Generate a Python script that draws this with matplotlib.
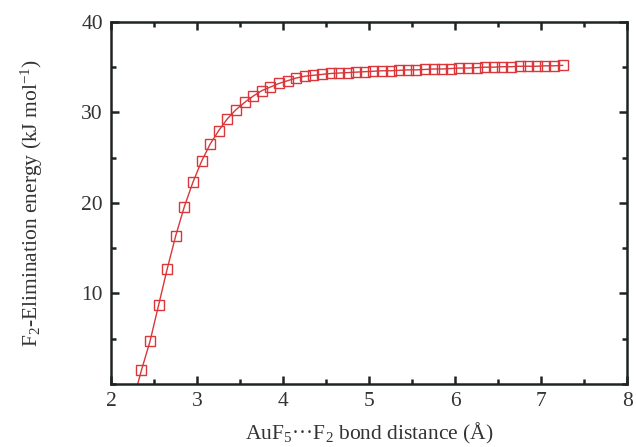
import matplotlib
matplotlib.use("Agg")
import matplotlib.pyplot as plt
from matplotlib.ticker import MultipleLocator

plt.rcParams["font.family"] = ["Liberation Serif", "DejaVu Serif"]
plt.rcParams["mathtext.fontset"] = "custom"
plt.rcParams["mathtext.rm"] = "Liberation Serif"
plt.rcParams["mathtext.it"] = "Liberation Serif:italic"

# AuF5...F2 distance (Angstrom) and F2-elimination energy (kJ/mol)
distance = [2.35, 2.45, 2.55, 2.65, 2.75, 2.85, 2.95, 3.05, 3.15, 3.25,
            3.35, 3.45, 3.55, 3.65, 3.75, 3.85, 3.95, 4.05, 4.15, 4.25,
            4.35, 4.45, 4.55, 4.65, 4.75, 4.85, 4.95, 5.05, 5.15, 5.25,
            5.35, 5.45, 5.55, 5.65, 5.75, 5.85, 5.95, 6.05, 6.15, 6.25,
            6.35, 6.45, 6.55, 6.65, 6.75, 6.85, 6.95, 7.05, 7.15, 7.25]
energy = [1.5, 4.7, 8.7, 12.7, 16.4, 19.6, 22.3, 24.6, 26.5, 28.0,
          29.3, 30.3, 31.1, 31.8, 32.4, 32.8, 33.2, 33.5, 33.8, 34.0,
          34.1, 34.2, 34.3, 34.35, 34.4, 34.45, 34.5, 34.55, 34.6, 34.6,
          34.65, 34.7, 34.7, 34.75, 34.8, 34.8, 34.85, 34.9, 34.9, 34.95,
          35.0, 35.0, 35.05, 35.05, 35.1, 35.1, 35.1, 35.15, 35.15, 35.2]

# the drawn curve starts a little below the first computed point
curve_x = [2.25] + distance
curve_y = [-2.0] + energy

red = "#d9373a"

fig = plt.figure(figsize=(6.36, 4.47), dpi=100)
ax = fig.add_axes([0.175, 0.141, 0.811, 0.81])

ax.plot(curve_x, curve_y, color=red, linewidth=1.0, zorder=2)
ax.plot(distance, energy, linestyle="none", marker="s", markersize=6.8,
        markerfacecolor="none", markeredgecolor=red, markeredgewidth=1.0, zorder=3)

ax.set_xlim(2, 8)
ax.set_ylim(0, 40)
ax.xaxis.set_major_locator(MultipleLocator(1))
ax.xaxis.set_minor_locator(MultipleLocator(0.5))
ax.set_yticks([10, 20, 30, 40])
ax.yaxis.set_minor_locator(MultipleLocator(5))

for s in ax.spines.values():
    s.set_linewidth(1.8)
    s.set_color("#1e2424")

ax.tick_params(which="both", direction="in", top=True, right=True,
               color="#1e2424", width=1.8)
ax.tick_params(which="major", length=6, labelsize=15.5, labelcolor="#333333", pad=6)
ax.tick_params(which="minor", length=3.5)

ax.set_xlabel("AuF$_5$\u00b7\u00b7\u00b7F$_2$ bond distance (\u00c5)",
              fontsize=15.5, color="#333333", labelpad=7)
ax.set_ylabel("F$_2$-Elimination energy (kJ mol$^{-1}$)",
              fontsize=15.5, color="#333333", labelpad=26)

fig.savefig("out.png", dpi=100, facecolor="white")
